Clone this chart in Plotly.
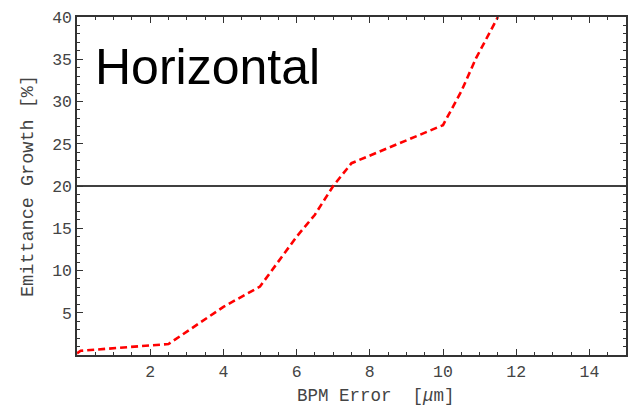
import plotly.graph_objects as go

bpm_error = [0.0, 0.1, 2.5, 4.0, 5.0, 6.0, 6.5, 7.0, 7.5, 8.8, 10.0, 10.5, 10.9, 11.5]
emittance_growth = [0.2, 0.5, 1.3, 5.7, 8.1, 14.0, 16.6, 20.0, 22.7, 25.0, 27.2, 31.2, 35.1, 40.0]
threshold_x = [0, 15]
threshold_y = [20, 20]
x_ticks = [2, 4, 6, 8, 10, 12, 14]
y_ticks = [5, 10, 15, 20, 25, 30, 35, 40]

mono = "Liberation Mono"
axis_col = "#333333"
txt_col = "#444444"

fig = go.Figure()
fig.add_trace(go.Scatter(x=threshold_x, y=threshold_y, mode="lines",
                         line=dict(color="#000000", width=1.5), showlegend=False))
fig.add_trace(go.Scatter(x=bpm_error, y=emittance_growth, mode="lines",
                         line=dict(color="#ff0000", width=2.6, dash="7px,4px"),
                         showlegend=False))

fig.add_annotation(text="Horizontal", x=0.03, y=0.852, xref="paper", yref="paper",
                   xanchor="left", yanchor="middle", showarrow=False,
                   font=dict(family="Liberation Sans", size=50, color="#000000"))

# x-axis title placed as annotation (it sits right of the plot centre in the reference)
fig.add_annotation(text="BPM Error\u00a0\u00a0[<i>μ</i>m]", x=0.5455, y=0, xref="paper", yref="paper",
                   xanchor="center", yanchor="middle", yshift=-41, showarrow=False,
                   font=dict(family=mono, size=17.5, color=txt_col))

fig.update_xaxes(range=[0, 15], tickvals=x_ticks, ticks="inside", ticklen=6,
                 tickcolor=axis_col, showline=True, linecolor=axis_col, linewidth=1.5,
                 mirror="ticks", showgrid=False, zeroline=False, automargin=False,
                 minor=dict(dtick=0.5, tick0=0, ticks="inside", ticklen=3, tickcolor=axis_col),
                 tickfont=dict(family=mono, size=16.5, color=txt_col))
fig.update_yaxes(range=[0, 40], tickvals=y_ticks, ticks="inside", ticklen=6,
                 tickcolor=axis_col, showline=True, linecolor=axis_col, linewidth=1.5,
                 mirror="ticks", showgrid=False, zeroline=False, automargin=False,
                 minor=dict(dtick=1, tick0=0, ticks="inside", ticklen=3, tickcolor=axis_col),
                 tickfont=dict(family=mono, size=16.5, color=txt_col),
                 title=dict(text="Emittance Growth [%]", standoff=14,
                            font=dict(family=mono, size=18.5, color=txt_col)))

# page body has an 8px default margin, so the figure is sized to fit the window
fig.update_layout(width=630, height=398, margin=dict(l=69, r=12, t=9, b=51),
                  plot_bgcolor="white", paper_bgcolor="white")
fig.write_html("out.html")
